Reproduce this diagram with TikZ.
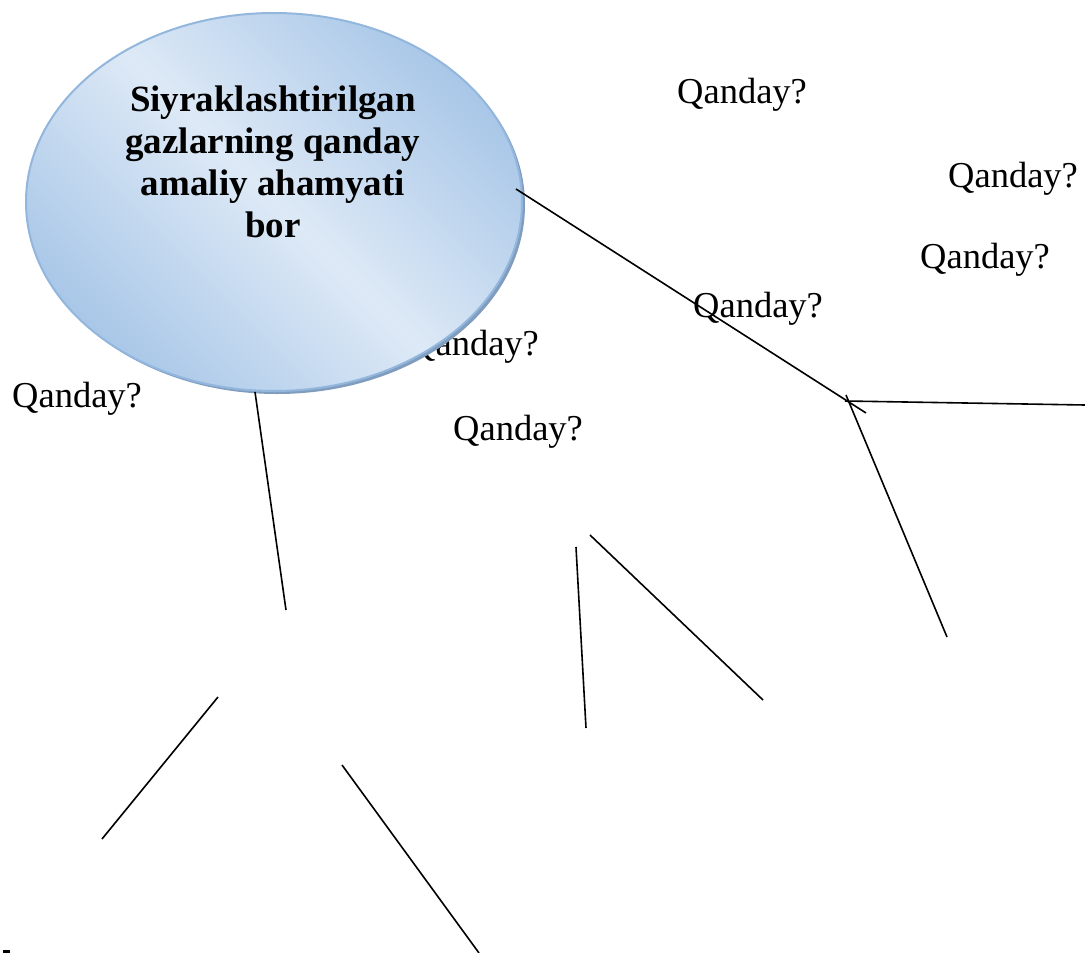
\documentclass[tikz,border=0pt]{standalone}
\usepackage{fontspec}
\setmainfont{Liberation Serif}
\usepackage{tikz}
\usetikzlibrary{shapes.geometric}
\definecolor{ovdark}{HTML}{A9C7E8}
\definecolor{ovlight}{HTML}{DDE9F6}
\definecolor{ovedge}{HTML}{93B6DD}
\definecolor{ovshade}{HTML}{809DBF}

\begin{document}
\begin{tikzpicture}[x=1pt,y=-1pt,every node/.style={inner sep=0pt},
  q/.style={anchor=base west,font=\fontsize{36.5}{42}\selectfont},
  ov/.style={ellipse,minimum width=496pt,minimum height=378pt},
  ed/.style={line width=1.6pt,black}]
\useasboundingbox (0,0) rectangle (1085,953);
% the label half hidden behind the oval goes first
\node[q] (q5) at (409,355) {Qanday?};
\node[ov,fill=ovshade] (ovsh) at (277,205) {};
\node[ov,draw=ovedge,line width=2pt,shading=axis,top color=ovdark,
  bottom color=ovdark,middle color=ovlight,shading angle=-45] (oval)
  at (274,202) {};
\node[anchor=north,align=center,font=\fontsize{37}{42}\selectfont\bfseries]
  (title) at (273,86) {Siyraklashtirilgan\\gazlarning qanday\\amaliy ahamyati\\bor};
\foreach \n/\x/\y in {1/677/103,2/948/187,3/920/268,4/693/317,6/453/440,7/12/407}
  {\node[q] (q\n) at (\x,\y) {Qanday?};}
\coordinate (a1) at (516,189); \coordinate (a2) at (866,413);
\coordinate (b1) at (845,401); \coordinate (b2) at (1085,405);
\coordinate (c1) at (846,395); \coordinate (c2) at (947,637);
\coordinate (d1) at (255,392); \coordinate (d2) at (286,610);
\coordinate (e1) at (576,547); \coordinate (e2) at (586,728);
\coordinate (f1) at (590,535); \coordinate (f2) at (763,700);
\coordinate (g1) at (218,697); \coordinate (g2) at (102,839);
\coordinate (h1) at (342,765); \coordinate (h2) at (479,953);
\foreach \p in {a,...,h} {\draw[ed] (\p1) -- (\p2);}
\coordinate (m1) at (3,951.5); \coordinate (m2) at (10,951.5);
\draw[line width=2.5pt] (m1) -- (m2);
\end{tikzpicture}
\end{document}
